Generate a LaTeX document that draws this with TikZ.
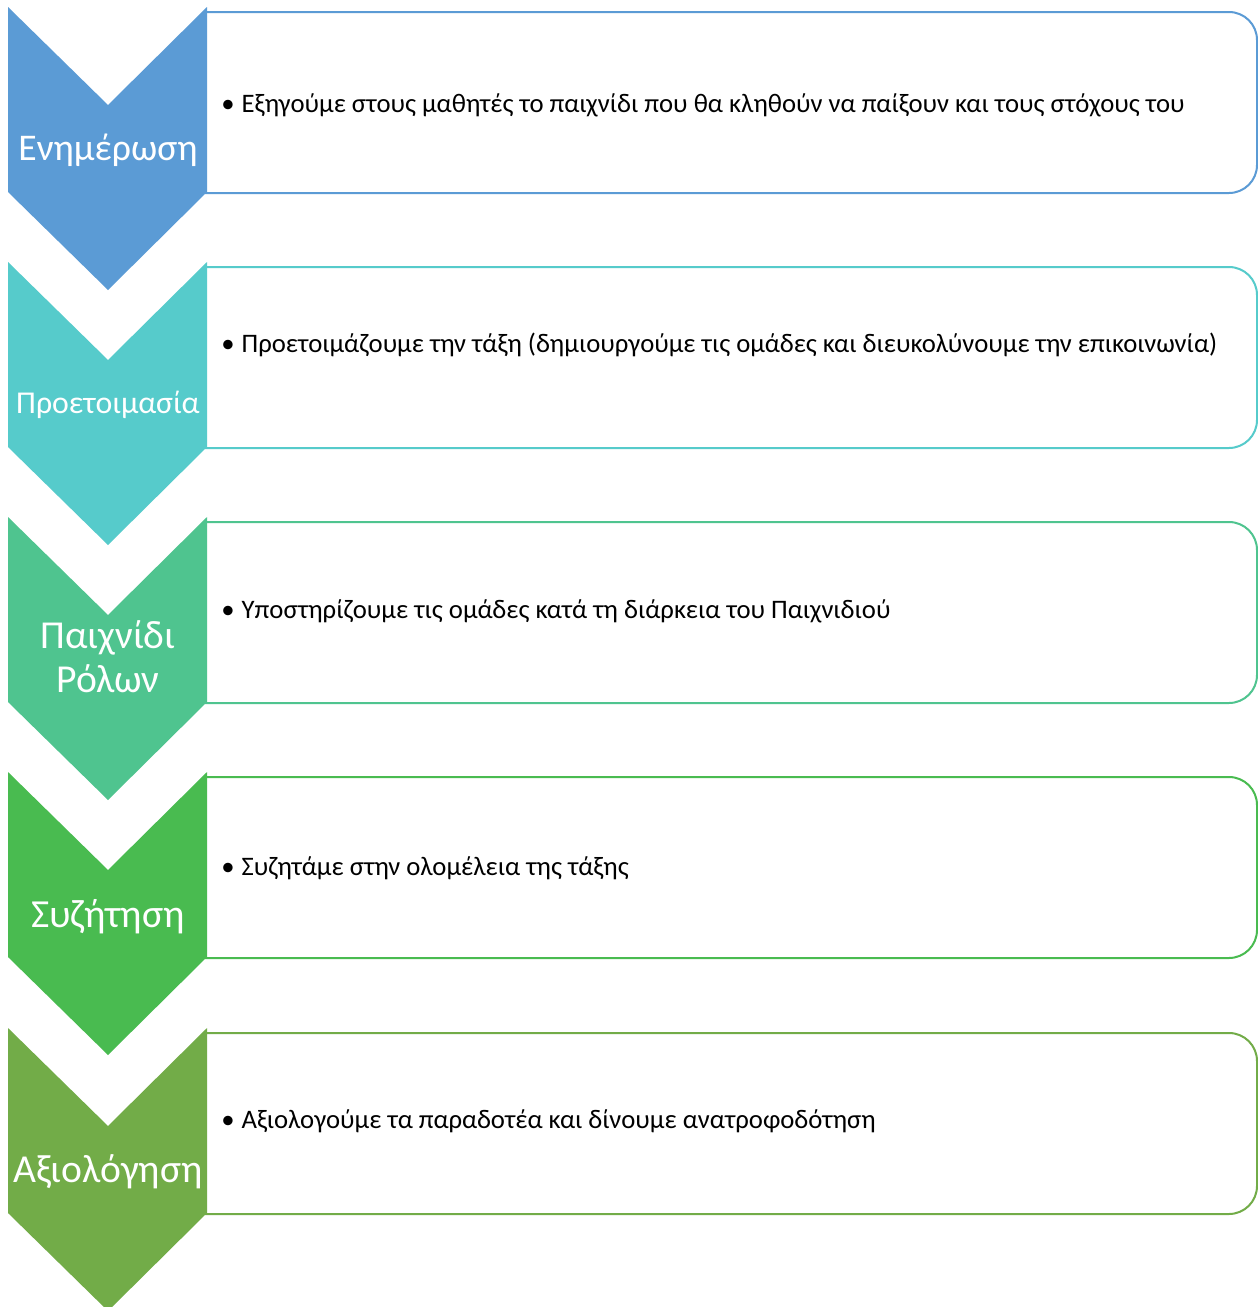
\documentclass[tikz,border=0pt]{standalone}
\usepackage{fontspec}
\setmainfont{Carlito}
\definecolor{cA}{HTML}{5B9BD5}
\definecolor{cB}{HTML}{56CBCB}
\definecolor{cC}{HTML}{4FC48F}
\definecolor{cD}{HTML}{49BB50}
\definecolor{cE}{HTML}{72AC48}
\tikzset{
  boxline/.style={line width=1pt, rounded corners=14pt},
  chevlabel/.style={text=white, inner sep=0pt, anchor=base, align=center},
  itemtext/.style={text=black, inner sep=0pt, anchor=base west, font=\fontsize{13.35pt}{16pt}\selectfont},
}
\newcommand{\stage}[3]{%
  % #1 top y, #2 colour, #3 name
  \draw[boxline, draw=#2] (205,#1+5) -- (1257,#1+5) -- (1257,#1+186) -- (205,#1+186);
  \fill[#2] (8,#1) -- (108,#1+98) -- (207,#1) -- (207,#1+185) -- (108,#1+283) -- (8,#1+185) -- cycle;
  \coordinate (#3) at (108,#1+142);
}
\begin{document}
\begin{tikzpicture}[x=0.5pt,y=-0.5pt]
\useasboundingbox (0,0) rectangle (1258,1307);
\fill[white] (0,0) rectangle (1258,1307);
\stage{7}{cA}{s1}
\stage{262}{cB}{s2}
\stage{517}{cC}{s3}
\stage{772}{cD}{s4}
\stage{1028}{cE}{s5}
\node[chevlabel, font=\fontsize{18.85pt}{22pt}\selectfont] (l1) at (108,160) {Ενημέρωση};
\node[chevlabel, font=\fontsize{15.9pt}{19pt}\selectfont] (l2) at (108,413) {Προετοιμασία};
\node[chevlabel, font=\fontsize{19.8pt}{23pt}\selectfont] (l3a) at (108,648) {Παιχνίδι};
\node[chevlabel, font=\fontsize{19.8pt}{23pt}\selectfont] (l3b) at (108,692) {Ρόλων};
\node[chevlabel, font=\fontsize{19.9pt}{23pt}\selectfont] (l4) at (108,927) {Συζήτηση};
\node[chevlabel, font=\fontsize{19.8pt}{23pt}\selectfont] (l5) at (108,1182) {Αξιολόγηση};
\node[itemtext] (t1) at (221,112) {•\hspace{3.5pt}Εξηγούμε στους μαθητές το παιχνίδι που θα κληθούν να παίξουν και τους στόχους του};
\node[itemtext] (t2) at (221,352) {•\hspace{3.5pt}Προετοιμάζουμε την τάξη (δημιουργούμε τις ομάδες και διευκολύνουμε την επικοινωνία)};
\node[itemtext] (t3) at (221,618) {•\hspace{3.5pt}Υποστηρίζουμε τις ομάδες κατά τη διάρκεια του Παιχνιδιού};
\node[itemtext] (t4) at (221,875) {•\hspace{3.5pt}Συζητάμε στην ολομέλεια της τάξης};
\node[itemtext] (t5) at (221,1128) {•\hspace{3.5pt}Αξιολογούμε τα παραδοτέα και δίνουμε ανατροφοδότηση};
\end{tikzpicture}
\end{document}
